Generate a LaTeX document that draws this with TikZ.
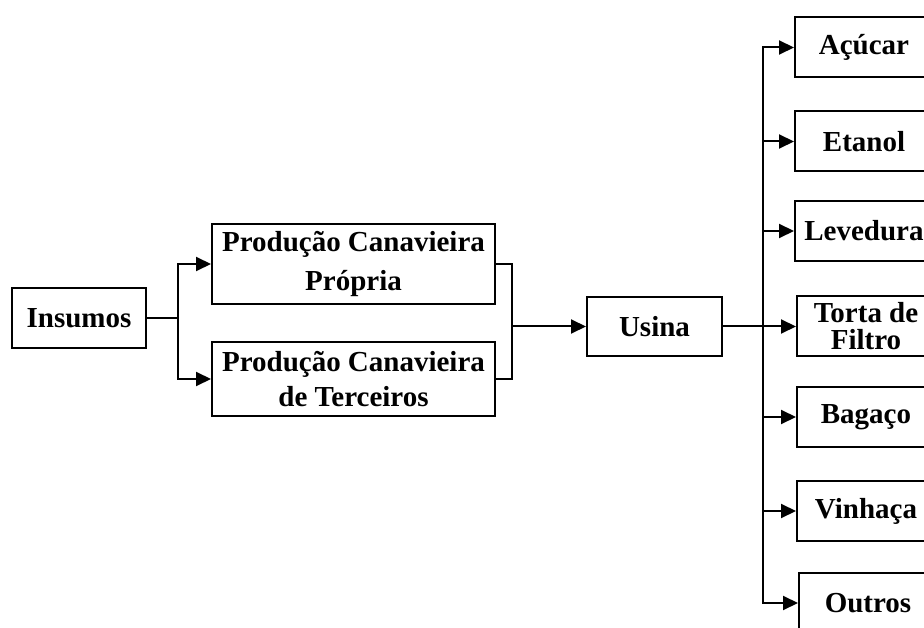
\documentclass[tikz,border=0pt]{standalone}
\usepackage{fontspec}
\setmainfont{Liberation Serif}
\usetikzlibrary{arrows.meta}
\tikzset{
  box/.style={draw=black, line width=2pt, fill=white, inner sep=0pt, align=center,
    font=\fontsize{29}{36}\selectfont\bfseries},
  outbox/.style={box, minimum width=138pt, minimum height=60pt},
  link/.style={draw=black, line width=2pt},
  arr/.style={link, -{Triangle[length=15pt,width=14pt]}}
}
\begin{document}
\begin{tikzpicture}[x=1pt,y=-1pt]
\useasboundingbox (0,0) rectangle (924,628);
\clip (0,0) rectangle (924,628);
\fill[white] (0,0) rectangle (924,628);
% nodes
\node[box, minimum width=134pt, minimum height=60pt] (ins) at (79,318) {Insumos};
\node[box, minimum width=283pt, minimum height=80pt, font=\fontsize{29}{39}\selectfont\bfseries] (p1) at (353.5,264) {Produção Canavieira\\Própria};
\node[box, minimum width=283pt, minimum height=74pt, font=\fontsize{29}{35}\selectfont\bfseries] (p2) at (353.5,379) {Produção Canavieira\\de Terceiros};
\node[box, minimum width=135pt, minimum height=59pt] (usina) at (654.5,326.5) {Usina};
\node[outbox] (acu) at (864,47.5) {Açúcar};
\node[outbox] (eta) at (864,141.5) {Etanol};
\node[outbox] (lev) at (864,231) {Levedura};
\node[outbox, font=\fontsize{29}{27}\selectfont\bfseries] (tor) at (866,326.5) {Torta de\\Filtro};
\node[outbox] (bag) at (866,417) {Bagaço};
\node[outbox] (vin) at (866,511) {Vinhaça};
\node[outbox] (out) at (868,603) {Outros};
% junctions
\coordinate (j1) at (178,318);
\coordinate (j2) at (512,326.5);
\coordinate (j3) at (763,326.5);
% connectors
\draw[link] (ins.east) -- (j1);
\draw[arr] (j1) |- (p1.west);
\draw[arr] (j1) |- (p2.west);
\draw[link] (p1.east) -| (j2) |- (p2.east);
\draw[arr] (j2) -- (usina.west);
\draw[arr] (usina.east) -- (tor.west);
\foreach \n in {acu,eta,lev,bag,vin,out}{
  \draw[arr] (j3) |- (\n.west);
}
\end{tikzpicture}
\end{document}
